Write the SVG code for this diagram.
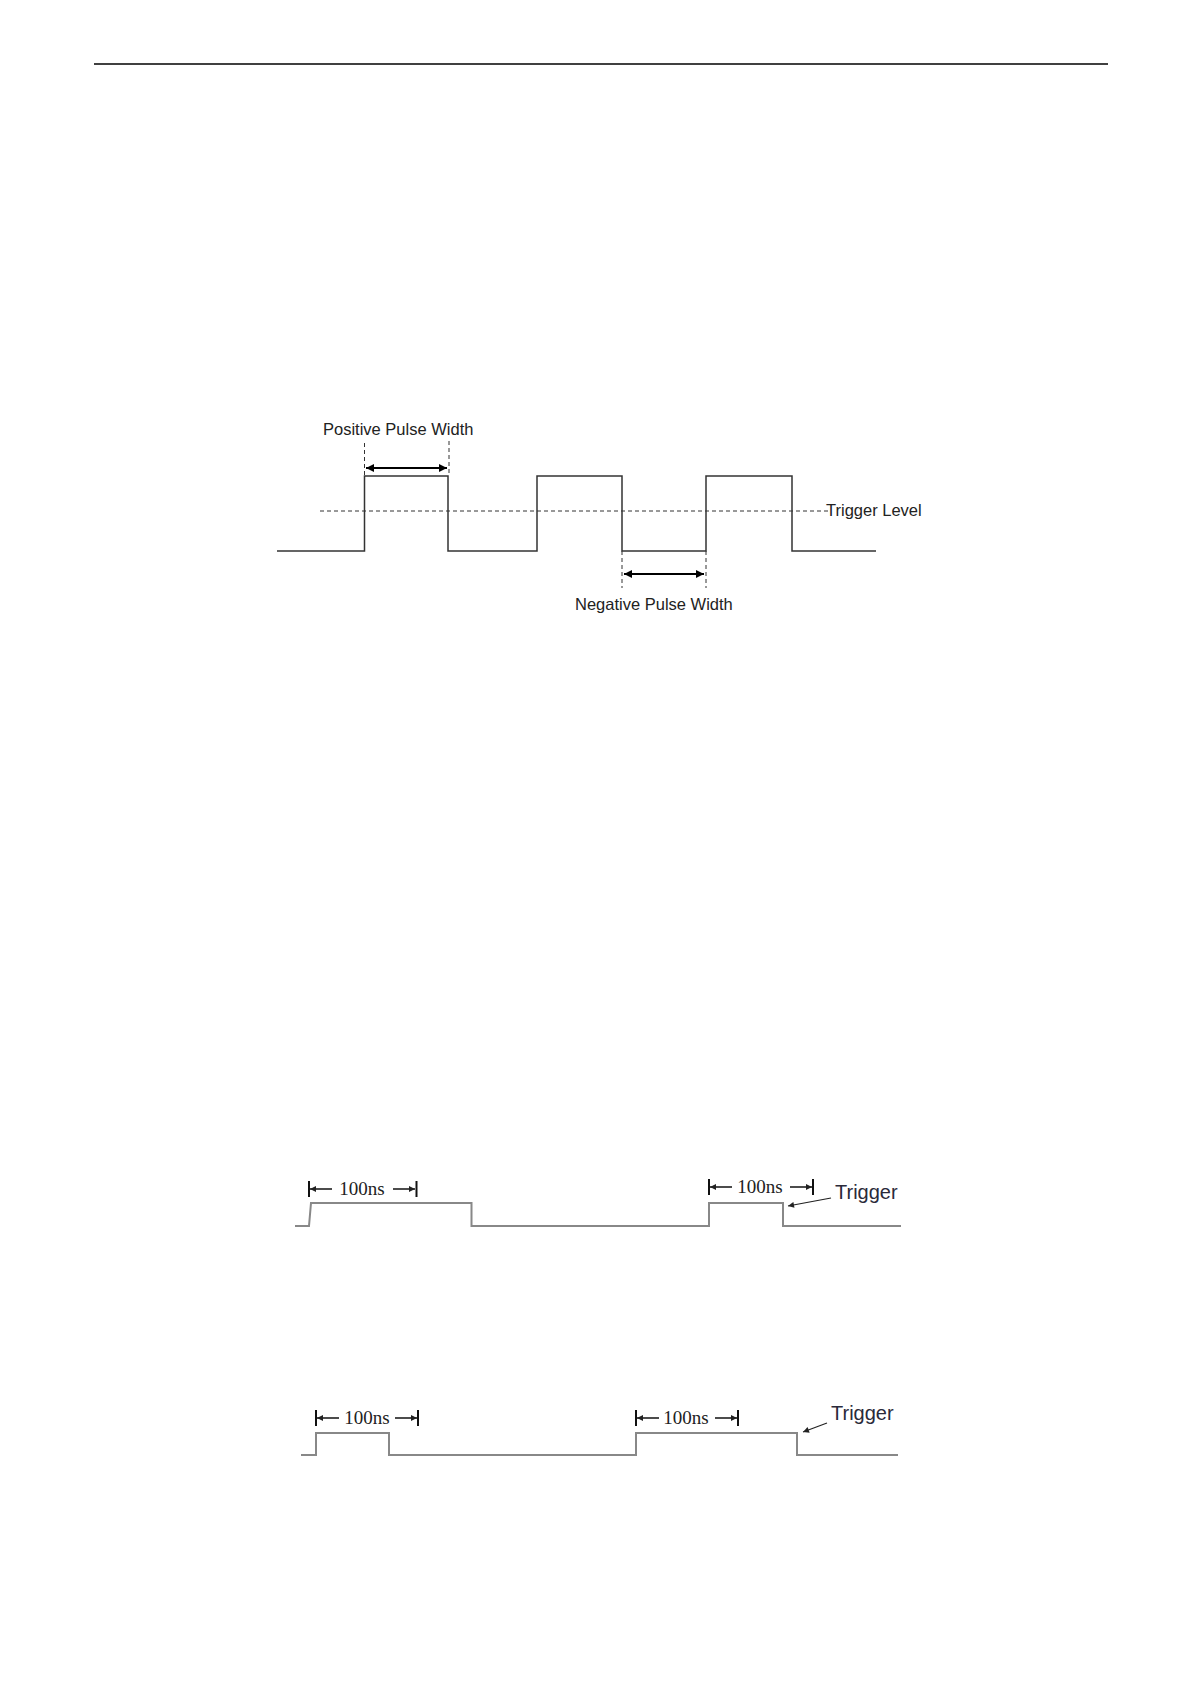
<svg xmlns="http://www.w3.org/2000/svg" width="1191" height="1684" viewBox="0 0 1191 1684">
<defs>
<marker id="ah" viewBox="0 0 10 10" refX="10" refY="5" markerWidth="10" markerHeight="8" orient="auto-start-reverse" markerUnits="userSpaceOnUse"><path d="M0,0 L10,5 L0,10 z" fill="#000"/></marker>
<marker id="sa" viewBox="0 0 10 10" refX="10" refY="5" markerWidth="9" markerHeight="6" orient="auto" markerUnits="userSpaceOnUse"><path d="M0,0 L10,5 L0,10 z" fill="#222"/></marker>
</defs>
<style>
.w{fill:none;stroke:#333;stroke-width:1.5}
.g{fill:none;stroke:#888;stroke-width:2}
.d{fill:none;stroke:#333;stroke-width:1;stroke-dasharray:4,3}
.t{font-family:"Liberation Sans",Arial,sans-serif;font-size:16.5px;fill:#222}
.s{font-family:"Liberation Serif","Times New Roman",serif;font-size:19px;fill:#222}
.tr{font-family:"Liberation Sans",Arial,sans-serif;font-size:20px;fill:#2a2a3a}
.b{stroke:#111;stroke-width:2}
</style>
<rect width="1191" height="1684" fill="#fff"/>
<line x1="94" y1="64" x2="1108" y2="64" stroke="#000" stroke-width="1.5"/>
<g id="pulse-width">
<path class="w" d="M277,551 H364.5 V476 H448 V551 H537 V476 H622 V551 H706 V476 H792 V551 H876"/>
<line class="d" x1="320" y1="511" x2="830" y2="511"/>
<line class="d" x1="364.5" y1="443" x2="364.5" y2="476"/>
<line class="d" x1="449" y1="441" x2="449" y2="476"/>
<line class="d" x1="622" y1="551" x2="622" y2="588"/>
<line class="d" x1="706" y1="551" x2="706" y2="588"/>
<line x1="366" y1="468" x2="447" y2="468" stroke="#000" stroke-width="2" marker-start="url(#ah)" marker-end="url(#ah)"/>
<line x1="624" y1="574" x2="704" y2="574" stroke="#000" stroke-width="2" marker-start="url(#ah)" marker-end="url(#ah)"/>
<text class="t" x="323" y="435">Positive Pulse Width</text>
<text class="t" x="826" y="516">Trigger Level</text>
<text class="t" x="575" y="610">Negative Pulse Width</text>
</g>
<g id="wave1">
<path class="g" d="M295,1226 H309 L311,1203 H471.5 V1226 H709 V1203 H783 V1226 H901"/>
<line class="b" x1="309" y1="1181" x2="309" y2="1197"/>
<line class="b" x1="416.5" y1="1181" x2="416.5" y2="1197"/>
<line x1="310" y1="1189" x2="332" y2="1189" stroke="#111" stroke-width="1.5" marker-end="url(#sa)" transform="rotate(180 321 1189)"/>
<line x1="393" y1="1189" x2="415" y2="1189" stroke="#111" stroke-width="1.5" marker-end="url(#sa)"/>
<text class="s" x="362" y="1195" text-anchor="middle">100ns</text>
<line class="b" x1="709" y1="1179" x2="709" y2="1195"/>
<line class="b" x1="813" y1="1179" x2="813" y2="1195"/>
<line x1="710" y1="1187" x2="732" y2="1187" stroke="#111" stroke-width="1.5" marker-end="url(#sa)" transform="rotate(180 721 1187)"/>
<line x1="790" y1="1187" x2="812" y2="1187" stroke="#111" stroke-width="1.5" marker-end="url(#sa)"/>
<text class="s" x="760" y="1193" text-anchor="middle">100ns</text>
<text class="tr" x="835" y="1199">Trigger</text>
<line x1="831" y1="1198" x2="788" y2="1206" stroke="#222" stroke-width="1.2" marker-end="url(#sa)"/>
</g>
<g id="wave2">
<path class="g" d="M301,1455 H316 V1433 H389 V1455 H636 V1433 H797 V1455 H898"/>
<line class="b" x1="316" y1="1410" x2="316" y2="1426"/>
<line class="b" x1="418" y1="1410" x2="418" y2="1426"/>
<line x1="317" y1="1418" x2="339" y2="1418" stroke="#111" stroke-width="1.5" marker-end="url(#sa)" transform="rotate(180 328 1418)"/>
<line x1="395" y1="1418" x2="417" y2="1418" stroke="#111" stroke-width="1.5" marker-end="url(#sa)"/>
<text class="s" x="367" y="1424" text-anchor="middle">100ns</text>
<line class="b" x1="636" y1="1410" x2="636" y2="1426"/>
<line class="b" x1="738" y1="1410" x2="738" y2="1426"/>
<line x1="637" y1="1418" x2="659" y2="1418" stroke="#111" stroke-width="1.5" marker-end="url(#sa)" transform="rotate(180 648 1418)"/>
<line x1="715" y1="1418" x2="737" y2="1418" stroke="#111" stroke-width="1.5" marker-end="url(#sa)"/>
<text class="s" x="686" y="1424" text-anchor="middle">100ns</text>
<text class="tr" x="831" y="1420">Trigger</text>
<line x1="827" y1="1423" x2="803" y2="1432" stroke="#222" stroke-width="1.2" marker-end="url(#sa)"/>
</g>
</svg>
